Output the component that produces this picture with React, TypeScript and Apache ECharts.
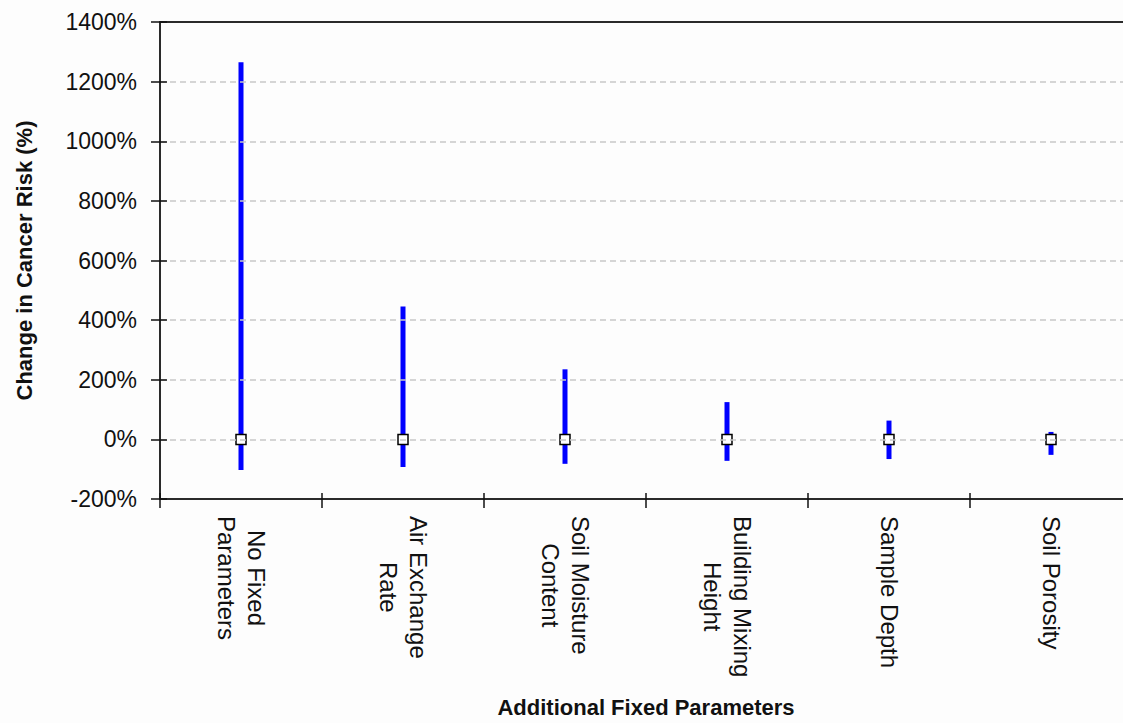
import React, { useEffect, useRef } from "react";
import * as echarts from "echarts";

const categories = [
  "No Fixed\nParameters",
  "Air Exchange\nRate",
  "Soil Moisture\nContent",
  "Building Mixing\nHeight",
  "Sample Depth",
  "Soil Porosity",
];
const highValues = [1265, 446, 235, 125, 63, 25];
const lowValues = [-103, -93, -82, -72, -66, -52];
const medianValues = [0, 0, 0, 0, 0, 0];
const yTicks = { min: -200, max: 1400, interval: 200 };

const FONT = "'Liberation Sans', Arial, sans-serif";

export default function App() {
  const ref = useRef<HTMLDivElement>(null);
  useEffect(() => {
    if (!ref.current) return;
    const chart = echarts.init(ref.current, undefined, { renderer: "svg" });
    const rangeData = categories.map((_, i) => [i, lowValues[i], highValues[i]]);
    const medData = categories.map((_, i) => [i, medianValues[i]]);
    chart.setOption({
      animation: false,
      backgroundColor: "#fdfdfd",
      textStyle: { fontFamily: FONT },
      grid: {
        left: 160,
        right: 0,
        top: 22,
        bottom: 216,
        show: false,
      },
      xAxis: [
        {
          type: "category",
          data: categories,
          position: "bottom",
          boundaryGap: true,
          axisLine: { show: true, onZero: false, lineStyle: { color: "#2a2a2a", width: 2 } },
          axisTick: { show: true, inside: false, length: 9, lineStyle: { color: "#111", width: 1.5 } },
          axisLabel: {
            interval: 0,
            rotate: -90,
            margin: 17,
            color: "#111",
            fontSize: 24,
            fontFamily: FONT,
            formatter: (v: string) => v.split("\n").map((s) => `{c|${s}}`).join("\n"),
            rich: {
              c: { align: "center", fontSize: 24, lineHeight: 30, fontFamily: FONT, color: "#111" },
            },
          },
          splitLine: { show: false },
          name: "Additional Fixed Parameters",
          nameLocation: "middle",
          nameGap: 197,
          nameTextStyle: { fontSize: 22, fontWeight: "bold", color: "#111", fontFamily: FONT },
          z: 5,
        },
        {
          type: "category",
          data: categories,
          position: "bottom",
          boundaryGap: true,
          axisLine: { show: false, onZero: false },
          axisTick: { show: true, inside: true, length: 6, lineStyle: { color: "#111", width: 1.5 } },
          axisLabel: { show: false },
          splitLine: { show: false },
          z: 5,
        },
        {
          type: "category",
          data: categories,
          position: "top",
          boundaryGap: true,
          axisLine: { show: true, onZero: false, lineStyle: { color: "#2a2a2a", width: 2 } },
          axisTick: { show: false },
          axisLabel: { show: false },
          splitLine: { show: false },
          z: 5,
        },
      ],
      yAxis: [
        {
          type: "value",
          min: yTicks.min,
          max: yTicks.max,
          interval: yTicks.interval,
          position: "left",
          axisLine: { show: true, onZero: false, lineStyle: { color: "#2a2a2a", width: 2 } },
          axisTick: { show: true, inside: false, length: 9, lineStyle: { color: "#111", width: 1.5 } },
          axisLabel: {
            formatter: (v: number) => `${v}%`,
            margin: 23,
            color: "#111",
            fontSize: 23,
            fontFamily: FONT,
          },
          splitLine: { show: true, lineStyle: { color: "#c8c8c8", type: [6, 4], width: 1.5 } },
          name: "Change in Cancer Risk (%)",
          nameLocation: "middle",
          nameGap: 125,
          nameTextStyle: { fontSize: 22, fontWeight: "bold", color: "#111", fontFamily: FONT },
          z: 5,
        },
        {
          type: "value",
          min: yTicks.min,
          max: yTicks.max,
          interval: yTicks.interval,
          position: "left",
          axisLine: { show: false, onZero: false },
          axisTick: { show: true, inside: true, length: 7, lineStyle: { color: "#111", width: 1.5 } },
          axisLabel: { show: false },
          splitLine: { show: false },
          z: 5,
        },
      ],
      series: [
        {
          type: "custom",
          xAxisIndex: 0,
          yAxisIndex: 0,
          data: rangeData,
          encode: { x: 0, y: [1, 2] },
          renderItem: (_params: any, api: any) => {
            const x = api.value(0);
            const lo = api.coord([x, api.value(1)]);
            const hi = api.coord([x, api.value(2)]);
            return {
              type: "line",
              shape: { x1: lo[0], y1: lo[1], x2: hi[0], y2: hi[1] },
              style: { stroke: "#0000ff", lineWidth: 5, lineCap: "butt" },
            };
          },
          z: 2,
        },
        {
          type: "scatter",
          xAxisIndex: 0,
          yAxisIndex: 0,
          data: medData,
          symbol: "rect",
          symbolSize: 10,
          itemStyle: { color: "#ffffff", borderColor: "#000", borderWidth: 1.5, opacity: 1 },
          z: 3,
        },
      ],
    });
    return () => chart.dispose();
  }, []);
  return (
    <div style={{ position: "absolute", left: 0, top: 0, width: 1123, height: 723, overflow: "hidden" }}>
      <div ref={ref} style={{ width: 1132, height: 723 }} />
    </div>
  );
}
